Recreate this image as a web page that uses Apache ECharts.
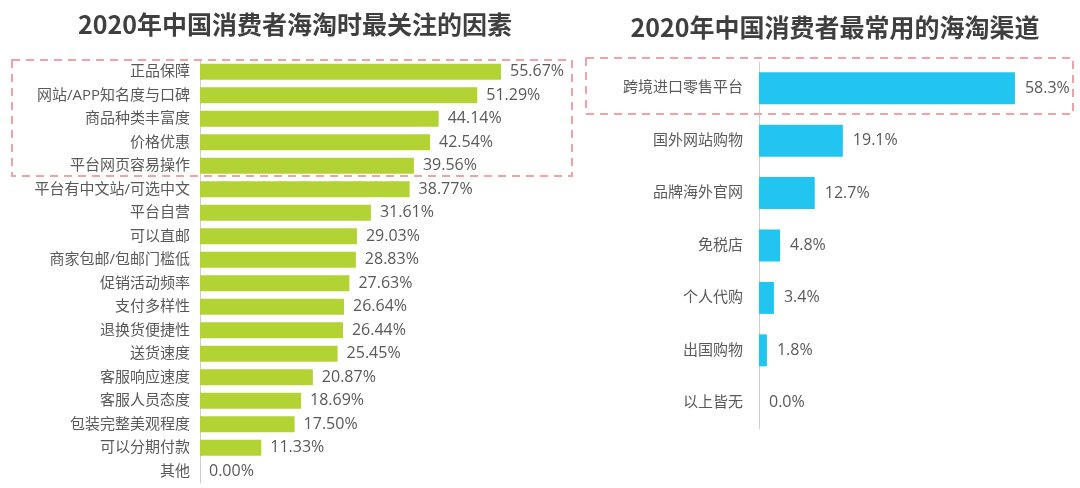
<!DOCTYPE html>
<html><head><meta charset="utf-8">
<script src="https://cdn.jsdelivr.net/npm/echarts@6/dist/echarts.min.js"></script>
<style>html,body{margin:0;padding:0;background:#fff}#c{width:1080px;height:488px}</style>
</head><body><div id="c"></div>
<script>
const leftTitle = '2020年中国消费者海淘时最关注的因素';
const rightTitle = '2020年中国消费者最常用的海淘渠道';
const factorCats = ['正品保障','网站/APP知名度与口碑','商品种类丰富度','价格优惠','平台网页容易操作','平台有中文站/可选中文','平台自营','可以直邮','商家包邮/包邮门槛低','促销活动频率','支付多样性','退换货便捷性','送货速度','客服响应速度','客服人员态度','包装完整美观程度','可以分期付款','其他'];
const factorVals = [55.67,51.29,44.14,42.54,39.56,38.77,31.61,29.03,28.83,27.63,26.64,26.44,25.45,20.87,18.69,17.50,11.33,0.00];
const channelCats = ['跨境进口零售平台','国外网站购物','品牌海外官网','免税店','个人代购','出国购物','以上皆无'];
const channelVals = [58.3,19.1,12.7,4.8,3.4,1.8,0.0];

const FONT = '"Open Sans", "Noto Sans CJK SC", sans-serif';
const TFONT = '"Noto Sans CJK SC", "Noto Sans", sans-serif';
const chart = echarts.init(document.getElementById('c'));
const dashed = (x,y,w,h)=>({type:'rect',shape:{x:x,y:y,width:w,height:h},style:{fill:'none',stroke:'#f0a3a6',lineWidth:2,lineDash:[8,6]},z:10});
chart.setOption({
  animation:false,
  backgroundColor:'#fff',
  title:[
    {text:leftTitle,left:290,top:7,textAlign:'center',textStyle:{fontFamily:TFONT,fontSize:25,fontWeight:'bold',color:'#3f3f3f'}},
    {text:rightTitle,left:830,top:10,textAlign:'center',textStyle:{fontFamily:TFONT,fontSize:25,fontWeight:'bold',color:'#3f3f3f'}}
  ],
  grid:[
    {left:200,top:60,width:324.4,height:423,containLabel:false},
    {left:759,top:62,width:263.4,height:367,containLabel:false}
  ],
  xAxis:[
    {gridIndex:0,type:'value',min:0,max:60,show:false},
    {gridIndex:1,type:'value',min:0,max:60,show:false}
  ],
  yAxis:[
    {gridIndex:0,type:'category',data:factorCats,inverse:true,
     axisLine:{show:true,lineStyle:{color:'#cfcfcf',width:1}},axisTick:{show:false},
     axisLabel:{fontFamily:FONT,fontSize:15,color:'#595959',margin:10}},
    {gridIndex:1,type:'category',data:channelCats,inverse:true,
     axisLine:{show:true,lineStyle:{color:'#cfcfcf',width:1}},axisTick:{show:false},
     axisLabel:{fontFamily:FONT,fontSize:15,color:'#595959',margin:16}}
  ],
  series:[
    {type:'bar',xAxisIndex:0,yAxisIndex:0,data:factorVals,barWidth:16,
     itemStyle:{color:'#b3d234'},
     label:{show:true,position:'right',distance:9,fontFamily:FONT,fontSize:16,color:'#595959',formatter:p=>p.value.toFixed(2)+'%'}},
    {type:'bar',xAxisIndex:1,yAxisIndex:1,data:channelVals,barWidth:32,
     itemStyle:{color:'#22c4f0'},
     label:{show:true,position:'right',distance:10,fontFamily:FONT,fontSize:16,color:'#595959',formatter:p=>p.value.toFixed(1)+'%'}}
  ],
  graphic:[dashed(12,60,560,116),dashed(586,58,487,56)]
});
</script></body></html>
